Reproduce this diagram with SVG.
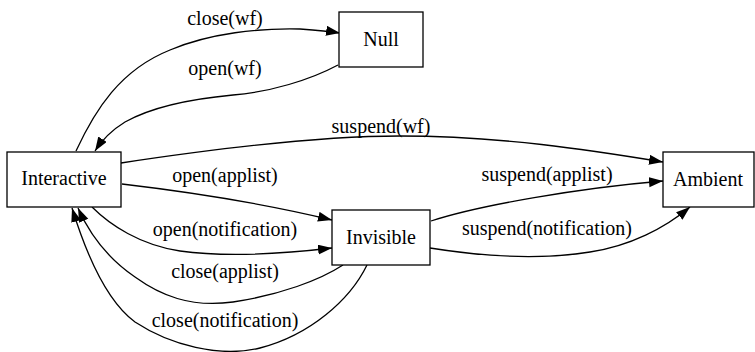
<svg xmlns="http://www.w3.org/2000/svg" width="755" height="352" viewBox="0 0 755 352" font-family="'Liberation Serif', 'Times New Roman', Times, serif">
<style>
.node rect{fill:#fff;stroke:#000;stroke-width:1.3}
text{font-family:'Liberation Serif','Times New Roman',Times,serif;font-size:20px;fill:#000;text-anchor:middle}
.edge path{fill:none;stroke:#000;stroke-width:1.3;marker-end:url(#arr)}
</style>
<defs>
<marker id="arr" markerUnits="userSpaceOnUse" markerWidth="16" markerHeight="12" refX="14" refY="5" orient="auto">
<path d="M0,0 L14,5 L0,10 z" fill="#000"/>
</marker>
</defs>
<rect width="755" height="352" fill="#fff"/>
<g id="edges" class="edge">
<path d="M76,151 C95,110 120,70 170,50 C210,33 260,28 300,29 C315,30 328,31 340,33"/>
<path d="M338,65 C310,80 270,92 233,95 C190,99 150,108 125,122 C112,130 102,140 95,151"/>
<path d="M121,163 C220,148 320,136 400,136 C500,136 590,150 663,162"/>
<path d="M122,184 C190,192 270,205 332,220"/>
<path d="M92,207 C110,225 140,245 180,251 C230,258 290,253 332,248"/>
<path d="M343,265 C320,280 280,295 233,302 C190,308 160,295 135,277 C110,260 90,235 78,208"/>
<path d="M367,265 C350,300 310,335 260,348 C220,358 170,345 135,322 C105,300 85,250 72,208"/>
<path d="M431,221 C480,205 580,188 663,181"/>
<path d="M430,248 C480,256 540,260 590,252 C630,246 665,228 690,207"/>
<text x="225" y="25">close(wf)</text>
<text x="225" y="75">open(wf)</text>
<text x="381" y="133">suspend(wf)</text>
<text x="225" y="182">open(applist)</text>
<text x="225" y="236">open(notification)</text>
<text x="225" y="278">close(applist)</text>
<text x="225" y="327">close(notification)</text>
<text x="547" y="181">suspend(applist)</text>
<text x="547" y="235">suspend(notification)</text>
</g>
<g id="Null" class="node"><rect x="339" y="12" width="84" height="55"/><text x="381" y="46">Null</text></g>
<g id="Interactive" class="node"><rect x="7" y="152" width="114" height="55"/><text x="64" y="185">Interactive</text></g>
<g id="Invisible" class="node"><rect x="332" y="210" width="98" height="55"/><text x="381" y="244">Invisible</text></g>
<g id="Ambient" class="node"><rect x="663" y="152" width="91" height="55"/><text x="708" y="186">Ambient</text></g>
</svg>
